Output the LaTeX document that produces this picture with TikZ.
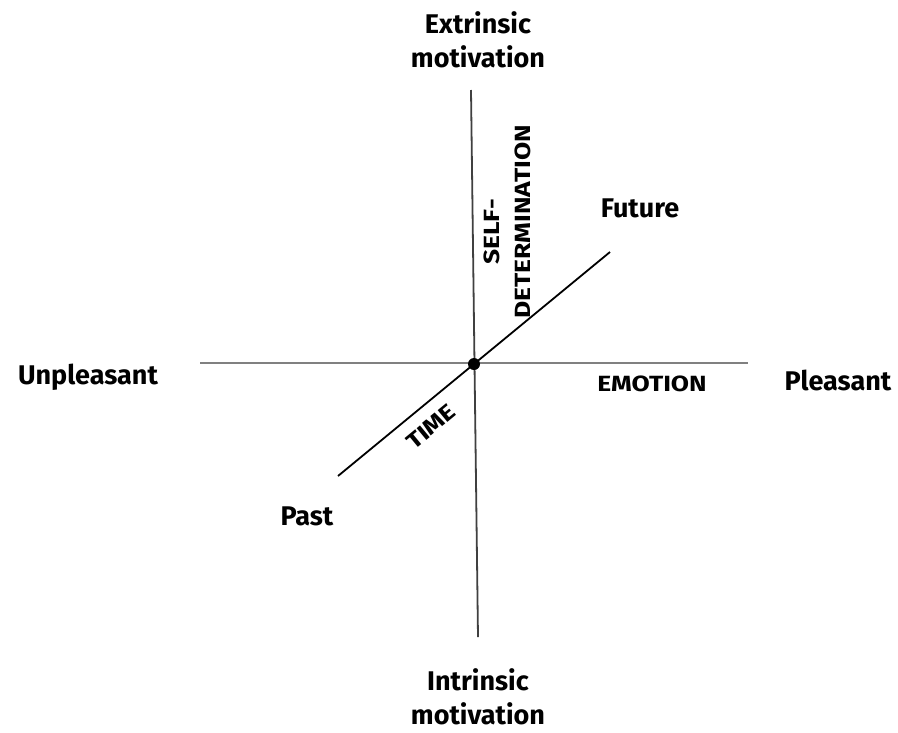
\documentclass[tikz,border=0pt]{standalone}
\usepackage{fontspec}
\setmainfont{Fira Sans}
\newfontfamily\widefont[FakeStretch=1.2]{Fira Sans}
\begin{document}
\begin{tikzpicture}[x=1pt,y=-1pt,
  lbl/.style={font=\fontsize{27}{34}\selectfont\bfseries, align=center, inner sep=0pt},
  axlbl/.style={font=\widefont\fontsize{22}{24}\selectfont\bfseries, inner sep=0pt},
  axisv/.style={draw=black!75, line width=1.8pt},
  axish/.style={draw=black!50, line width=2.2pt},
  axisd/.style={draw=black, line width=1.8pt}]
\useasboundingbox[fill=white] (0,0) rectangle (898,732);
\coordinate (top) at (471,90);
\coordinate (bot) at (478,637);
\coordinate (left) at (200,363);
\coordinate (right) at (748,363);
\coordinate (past) at (338,476);
\coordinate (fut) at (610,252);
\coordinate (c) at (474,364);
\draw[axish] (left) -- (right);
\draw[axisv] (top) -- (bot);
\draw[axisd] (past) -- (fut);
\fill (c) circle (6);
\node[lbl] (ext) at (478,40) {Extrinsic\\motivation};
\node[lbl] (int) at (478,697) {Intrinsic\\motivation};
\node[lbl] (unp) at (88,377) {Unpleasant};
\node[lbl] (ple) at (838,380) {Pleasant};
\node[lbl] (futl) at (640,208) {Future};
\node[lbl] (pastl) at (307,516) {Past};
\node[axlbl] (emo) at (652,384) {EMOTION};
\node[axlbl, rotate=39.5] (time) at (431,427) {TIME};
\node[axlbl, rotate=90] (self) at (492,232) {SELF-};
\node[axlbl, rotate=90] (det) at (523,222) {DETERMINATION};
\end{tikzpicture}
\end{document}
